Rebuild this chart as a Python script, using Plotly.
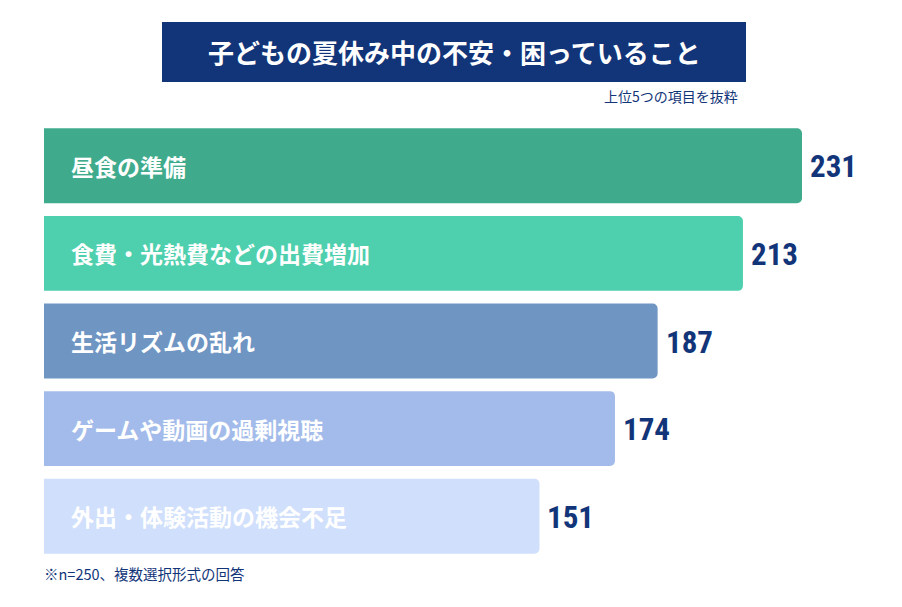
import plotly.graph_objects as go

# データ
categories = ['昼食の準備', '食費・光熱費などの出費増加', '生活リズムの乱れ',
              'ゲームや動画の過剰視聴', '外出・体験活動の機会不足']
counts = [231, 213, 187, 174, 151]
bar_colors = ['#3fab8c', '#4ecfae', '#6f95c3', '#a3bbea', '#d0dffb']

title = '子どもの夏休み中の不安・困っていること'
subtitle = '上位5つの項目を抜粋'
note = '※n=250、複数選択形式の回答'

NAVY = '#12357a'
JP = 'Noto Sans CJK JP'
NUM = ('Roboto Condensed, Noto Sans Condensed, Open Sans Condensed, '
       'DejaVu Sans Condensed, Liberation Sans Narrow, Arial Narrow')

W, H = 902, 607
OFF = 8  # page offset of the plot in the window
ML, MR, MT = 44 - OFF, 0, 122 - OFF
MB = H - (560 - OFF)
pw, ph = W - ML - MR, H - MT - MB


def px_x(x):
    return (x - OFF - ML) / pw


def px_y(y):
    return (H - MB - (y - OFF)) / ph


fig = go.Figure(go.Bar(
    x=counts, y=categories, orientation='h',
    marker=dict(color=bar_colors, line=dict(width=0)),
    hoverinfo='skip',
))

# バー内のラベル
for cat in categories:
    fig.add_annotation(x=0, y=cat, text=f'<b>{cat}</b>', showarrow=False,
                       xanchor='left', xshift=25,
                       font=dict(family=JP, size=23, color='white'))

# 値ラベル
for cat, v in zip(categories, counts):
    fig.add_annotation(x=v, y=cat, text=f'<b>{v}</b>', showarrow=False,
                       xanchor='left', xshift=6, yshift=-1,
                       font=dict(family=NUM, size=31, color=NAVY))

# タイトルボックス
fig.add_shape(type='rect', xref='paper', yref='paper',
              x0=px_x(162), x1=px_x(746), y0=px_y(82), y1=px_y(22),
              fillcolor=NAVY, line=dict(width=0), layer='above')
fig.add_annotation(xref='paper', yref='paper', x=px_x(454), y=px_y(52),
                   text=f'<b>{title}</b>', showarrow=False,
                   xanchor='center', yanchor='middle',
                   font=dict(family=JP, size=26, color='white'))
fig.add_annotation(xref='paper', yref='paper', x=px_x(740), y=px_y(96),
                   text=subtitle, showarrow=False,
                   xanchor='right', yanchor='middle',
                   font=dict(family=JP, size=14, color=NAVY))
fig.add_annotation(xref='paper', yref='paper', x=px_x(42), y=px_y(573),
                   text=note, showarrow=False,
                   xanchor='left', yanchor='middle',
                   font=dict(family=JP, size=14.5, color=NAVY))

fig.update_layout(
    width=W, height=H,
    margin=dict(l=ML, r=MR, t=MT, b=MB),
    paper_bgcolor='white', plot_bgcolor='white',
    bargap=0.145, barcornerradius=5,
    showlegend=False,
    xaxis=dict(range=[0, pw / (758 / 231)], visible=False, fixedrange=True),
    yaxis=dict(autorange='reversed', visible=False, fixedrange=True),
)

fig.write_html('out.html', config={'displayModeBar': False})
